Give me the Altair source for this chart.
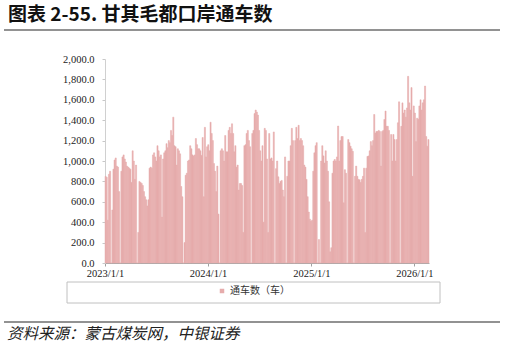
import altair as alt
import pandas as pd

title_text = "图表 2-55. 甘其毛都口岸通车数"
source_text = "资料来源：蒙古煤炭网，中银证券"
series_name = "通车数（车）"
start_date = "2023-01-01"
bin_days = 4

# vehicle counts, one reading per 4-day span starting 2023-01-01
counts = [
    850, 840, 420, 870, 900, 0, 520, 920, 1010, 1030,
    950, 940, 700, 0, 900, 1040, 1060, 1020, 990, 950,
    940, 930, 920, 790, 1100, 1000, 820, 960, 0, 300,
    800, 790, 780, 760, 700, 650, 620, 560, 620, 930,
    940, 930, 1060, 1080, 1040, 1000, 1150, 1100, 1040, 1060,
    450, 1020, 1080, 1100, 1170, 1130, 1200, 1180, 1300, 1250,
    1430, 1150, 1140, 960, 1120, 1100, 1070, 750, 650, 0,
    200, 860, 880, 1000, 1010, 1150, 1120, 1060, 1050, 1060,
    1220, 1160, 1120, 1120, 1100, 1055, 1230, 650, 1330, 1040,
    1140, 1160, 1100, 1380, 1270, 1200, 975, 900, 700, 950,
    480, 0, 1100, 1120, 1100, 1000, 1250, 1090, 1090, 1300,
    1330, 1270, 1365, 1270, 1090, 1150, 940, 960, 715, 780,
    780, 760, 300, 1150, 1160, 1270, 1300, 1200, 1140, 0,
    1270, 1300, 1465, 1500, 1480, 1450, 1300, 1100, 1000, 1150,
    400, 1320, 1300, 1020, 300, 1270, 1020, 1030, 1000, 1285,
    0, 925, 1000, 845, 780, 800, 810, 715, 650, 1040,
    0, 850, 1000, 1000, 1150, 1320, 1200, 0, 1200, 1330,
    1220, 1350, 1200, 1220, 1200, 1150, 960, 940, 820, 650,
    500, 430, 410, 420, 900, 1080, 1150, 1180, 0, 230,
    0, 1000, 1150, 1050, 980, 1100, 1000, 900, 600, 110,
    150, 880, 1000, 1015, 1000, 1040, 1343, 1000, 1200, 1240,
    1240, 590, 915, 880, 0, 1210, 1180, 1145, 1120, 1095,
    0, 850, 950, 850, 820, 815, 790, 820, 850, 930,
    300, 930, 1045, 1050, 1100, 1190, 1150, 1200, 1456, 1275,
    1290, 1290, 1300, 1290, 950, 1290, 1300, 1407, 1490, 1340,
    1340, 1300, 0, 1260, 1000, 1260, 1210, 1000, 1210, 1375,
    1580, 0, 1340, 1570, 1470, 1500, 1430, 1520, 1830, 1570,
    1500, 1720, 850, 1540, 1470, 1190, 1420, 1410, 1540, 1600,
    1500, 1570, 1600, 1735, 1240, 1145, 1210,
]

x_tick_years = [2023, 2024, 2025, 2026]
y_ticks = [0, 200, 400, 600, 800, 1000, 1200, 1400, 1600, 1800, 2000]

starts = pd.date_range(start_date, periods=len(counts), freq=f"{bin_days}D")
ends = starts + pd.Timedelta(days=bin_days)
df = pd.DataFrame({
    "start": starts.strftime("%Y-%m-%d"),
    "end": ends.strftime("%Y-%m-%d"),
    "value": counts,
    "series": series_name,
})

bar_color = "#E6ACAC"
serif = "Liberation Serif"
cjk = "Noto Sans CJK SC"

x_scale = alt.Scale(
    type="utc",
    domain=[alt.DateTime(year=2023, month=1, date=1, utc=True),
            alt.DateTime(year=2026, month=2, date=22, utc=True)],
)

bars = alt.Chart(df).mark_bar(stroke=bar_color, strokeWidth=0.5).encode(
    x=alt.X("start:T", scale=x_scale, title=None,
            axis=alt.Axis(values=[alt.DateTime(year=y, month=1, date=1, utc=True) for y in x_tick_years],
                          format="%Y/%-m/%-d", grid=False, labelFlush=False, labelOverlap=False,
                          labelFont=serif, labelFontSize=10.5, labelColor="#222",
                          tickSize=3, tickColor="#a0a0a0", domainColor="#a8a8a8",
                          labelPadding=2)),
    x2="end:T",
    y=alt.Y("value:Q", scale=alt.Scale(domain=[0, 2000], nice=False), title=None,
            axis=alt.Axis(values=y_ticks, format=",.1f", grid=False, labelFlush=False,
                          labelFont=serif, labelFontSize=10.5, labelColor="#222",
                          tickSize=3, tickColor="#c8c8c8", domainColor="#d0d0d0",
                          labelPadding=8)),
    y2=alt.datum(0),
    color=alt.Color("series:N",
                    scale=alt.Scale(domain=[series_name], range=[bar_color]),
                    legend=alt.Legend(orient="none", legendX=112, legendY=227, title=None,
                                      symbolType="square", symbolSize=20, symbolStrokeWidth=0,
                                      labelFont=cjk, labelFontSize=10, labelColor="#333",
                                      padding=0, labelOffset=3)),
)

one = pd.DataFrame({"k": [0]})

legend_box = alt.Chart(one).mark_rect(fillOpacity=0, stroke="#c0c0c0", strokeWidth=1).encode(
    x=alt.value(-38), x2=alt.value(335), y=alt.value(223), y2=alt.value(244)
)

top_rule = alt.Chart(one).mark_rule(color="#6e6e6e", strokeWidth=1.5).encode(
    x=alt.value(-101), x2=alt.value(395), y=alt.value(-29)
)
bottom_rule = alt.Chart(one).mark_rule(color="#6e6e6e", strokeWidth=1.5).encode(
    x=alt.value(-101), x2=alt.value(395), y=alt.value(263)
)

title_mark = alt.Chart(one).mark_text(
    align="left", baseline="middle", font=cjk, fontSize=19, fontWeight="bold", color="#111"
).encode(x=alt.value(-97), y=alt.value(-44), text=alt.value(title_text))

source_mark = alt.Chart(one).mark_text(
    align="left", baseline="middle", font=cjk, fontSize=15.5, fontStyle="italic", color="#222"
).encode(x=alt.value(-98), y=alt.value(275), text=alt.value(source_text))

chart = alt.layer(bars, legend_box, top_rule, bottom_rule, title_mark, source_mark).properties(
    width=324,
    height=204,
    autosize=alt.AutoSizeParams(type="none"),
    padding={"left": 105, "top": 59, "right": 76, "bottom": 85},
    background="white",
).configure_view(stroke=None)

chart.save("out.html", embed_options={"renderer": "svg", "actions": False})
